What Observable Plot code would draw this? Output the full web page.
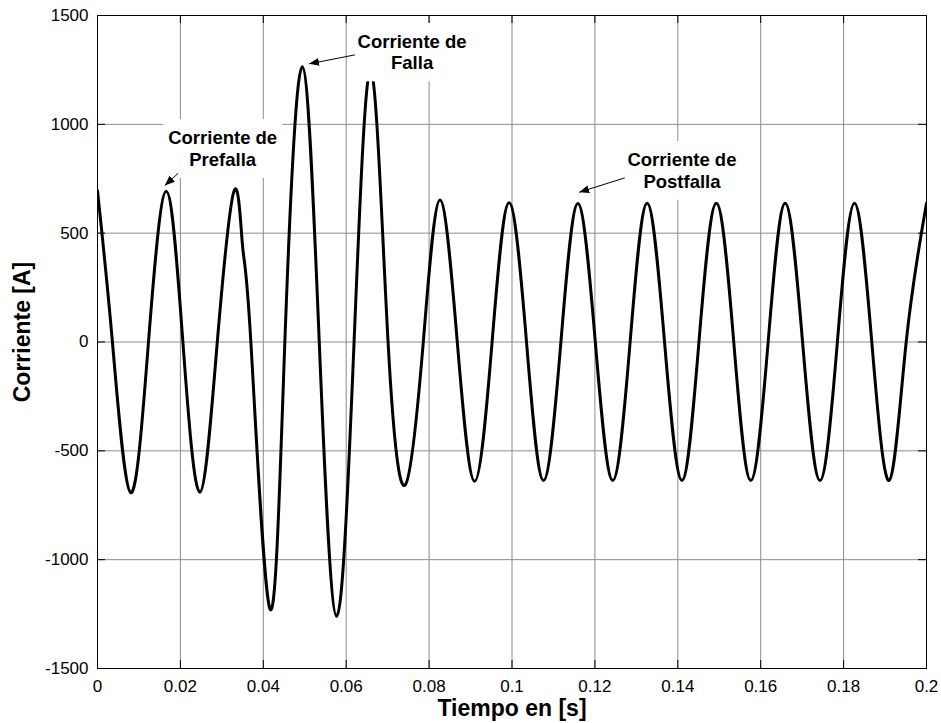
<!DOCTYPE html>
<html>
<head>
<meta charset="utf-8">
<script src="https://cdn.jsdelivr.net/npm/d3@7"></script>
<script src="https://cdn.jsdelivr.net/npm/@observablehq/plot@0.6"></script>
<style>
  body { margin: 0; background: #fff; }
  #chart svg { display: block; }
</style>
</head>
<body>
<div id="chart"></div>
<script>
// Corriente de fase: prefalla, falla y postfalla (muestras en picos, cruces por cero y valles)
const tiempo = [
  0.0000, 0.0036, 0.0080, 0.0123, 0.0166, 0.0206, 0.0247, 0.0289, 0.0330,
  0.0350, 0.0370, 0.0416, 0.0452, 0.0494, 0.0535, 0.0577, 0.0619, 0.0660,
  0.0701, 0.0743, 0.0786, 0.0826, 0.0868, 0.0910, 0.0952, 0.0993, 0.1035,
  0.1076, 0.1118, 0.1159, 0.1201, 0.1243, 0.1285, 0.1326, 0.1368, 0.1410,
  0.1451, 0.1493, 0.1535, 0.1576, 0.1618, 0.1659, 0.1701, 0.1743, 0.1785,
  0.1826, 0.1868, 0.1910, 0.1951, 0.2000
];
const corriente = [
  695, 0, -692, 0, 692, 0, -690, 0, 697,
  440, 0, -1226, 0, 1265, 0, -1260, 0, 1248,
  0, -655, 0, 652, 0, -640, 0, 640, 0,
  -636, 0, 636, 0, -636, 0, 638, 0, -636,
  0, 638, 0, -636, 0, 638, 0, -636, 0,
  638, 0, -636, 0, 638
];

// Ejes
const xTicks = [0, 0.02, 0.04, 0.06, 0.08, 0.1, 0.12, 0.14, 0.16, 0.18, 0.2];
const yTicks = [-1500, -1000, -500, 0, 500, 1000, 1500];
const xTitulo = "Tiempo en [s]";
const yTitulo = "Corriente [A]";

// Anotaciones (texto y flechas)
const notaTexto = ["Corriente de\nPrefalla", "Corriente de\nFalla", "Corriente de\nPostfalla"];
const notaX = [0.0302, 0.0759, 0.1410];
const notaY = [891, 1334, 790];
const flechaX1 = [0.01945, 0.0621, 0.1272];
const flechaY1 = [775, 1319, 754];
const flechaX2 = [0.01624, 0.05105, 0.1162];
const flechaY2 = [719, 1278, 688];

const W = 941, H = 723;
const mL = 97, mT = 15, mR = 15, mB = 55;
const plotW = W - mL - mR, plotH = H - mT - mB;
const tickLen = 8;

const serie = tiempo.map((t, k) => ({t, i: corriente[k]}));
const notas = notaTexto.map((s, k) => ({s, x: notaX[k], y: notaY[k]}));
const flechas = flechaX1.map((x1, k) => ({x1, y1: flechaY1[k], x2: flechaX2[k], y2: flechaY2[k]}));

const font = "'Liberation Sans', Arial, Helvetica, sans-serif";
const gridColor = "#8c8c8c";

const chart = Plot.plot({
  width: W, height: H,
  marginLeft: mL, marginRight: mR, marginTop: mT, marginBottom: mB,
  style: {fontFamily: font, fontSize: "17px", color: "black", background: "white", overflow: "visible"},
  x: {domain: [0, 0.2]},
  y: {domain: [-1500, 1500]},
  marks: [
    Plot.gridX(xTicks, {stroke: gridColor, strokeOpacity: 1, strokeWidth: 1}),
    Plot.gridY(yTicks, {stroke: gridColor, strokeOpacity: 1, strokeWidth: 1}),
    Plot.line(serie, {x: "t", y: "i", curve: "natural", stroke: "black", strokeWidth: 3, clip: true}),
    Plot.text(notas, {
      x: "x", y: "y", text: "s",
      fontWeight: "bold", fontSize: 18.5, lineHeight: 1.17,
      textAnchor: "middle", lineAnchor: "middle", fill: "black"
    }),
    Plot.link(flechas, {x1: "x1", y1: "y1", x2: "x2", y2: "y2", stroke: "black", strokeWidth: 1}),
    Plot.frame({stroke: "black", strokeWidth: 1}),
    // marcas de graduación hacia adentro en los cuatro lados
    Plot.tickX(xTicks, {x: d => d, insetTop: plotH - tickLen, stroke: "black"}),
    Plot.tickX(xTicks, {x: d => d, insetBottom: plotH - tickLen, stroke: "black"}),
    Plot.tickY(yTicks, {y: d => d, insetRight: plotW - tickLen, stroke: "black"}),
    Plot.tickY(yTicks, {y: d => d, insetLeft: plotW - tickLen, stroke: "black"}),
    Plot.axisX(xTicks, {tickSize: 0, tickPadding: 11, label: null, tickFormat: d => String(d)}),
    Plot.axisY(yTicks, {tickSize: 0, tickPadding: 9, label: null, tickFormat: d => String(d)}),
    Plot.text([xTitulo], {text: d => d, frameAnchor: "bottom", dy: 40, fontWeight: "bold", fontSize: 23, textAnchor: "middle", lineAnchor: "middle"}),
    Plot.text([yTitulo], {text: d => d, frameAnchor: "left", dx: -75, dy: -10, rotate: -90, fontWeight: "bold", fontSize: 23, textAnchor: "middle", lineAnchor: "middle"})
  ]
});

document.getElementById("chart").appendChild(chart);

// Fondo blanco detrás de cada anotación
const svg = d3.select(chart);
const notaGrupo = svg.selectAll('g[aria-label="text"]').nodes()[0];
if (notaGrupo) {
  const g = d3.select(notaGrupo);
  const padX = 5, padY = 8;
  g.selectAll("text").each(function () {
    const b = this.getBBox();
    g.insert("rect", ":first-child")
      .attr("transform", this.getAttribute("transform"))
      .attr("x", b.x - padX).attr("y", b.y - padY)
      .attr("width", b.width + 2 * padX).attr("height", b.height + 2 * padY)
      .attr("fill", "white").attr("stroke", "none");
  });
}

// Punta de flecha rellena
const defs = svg.insert("defs", ":first-child");
defs.append("marker")
  .attr("id", "punta")
  .attr("viewBox", "0 0 10 8")
  .attr("refX", 10).attr("refY", 4)
  .attr("markerWidth", 10).attr("markerHeight", 8)
  .attr("markerUnits", "userSpaceOnUse")
  .attr("orient", "auto")
  .append("path").attr("d", "M0,0L10,4L0,8Z").attr("fill", "black");
svg.selectAll('g[aria-label="link"] path').attr("marker-end", "url(#punta)");
</script>
</body>
</html>
